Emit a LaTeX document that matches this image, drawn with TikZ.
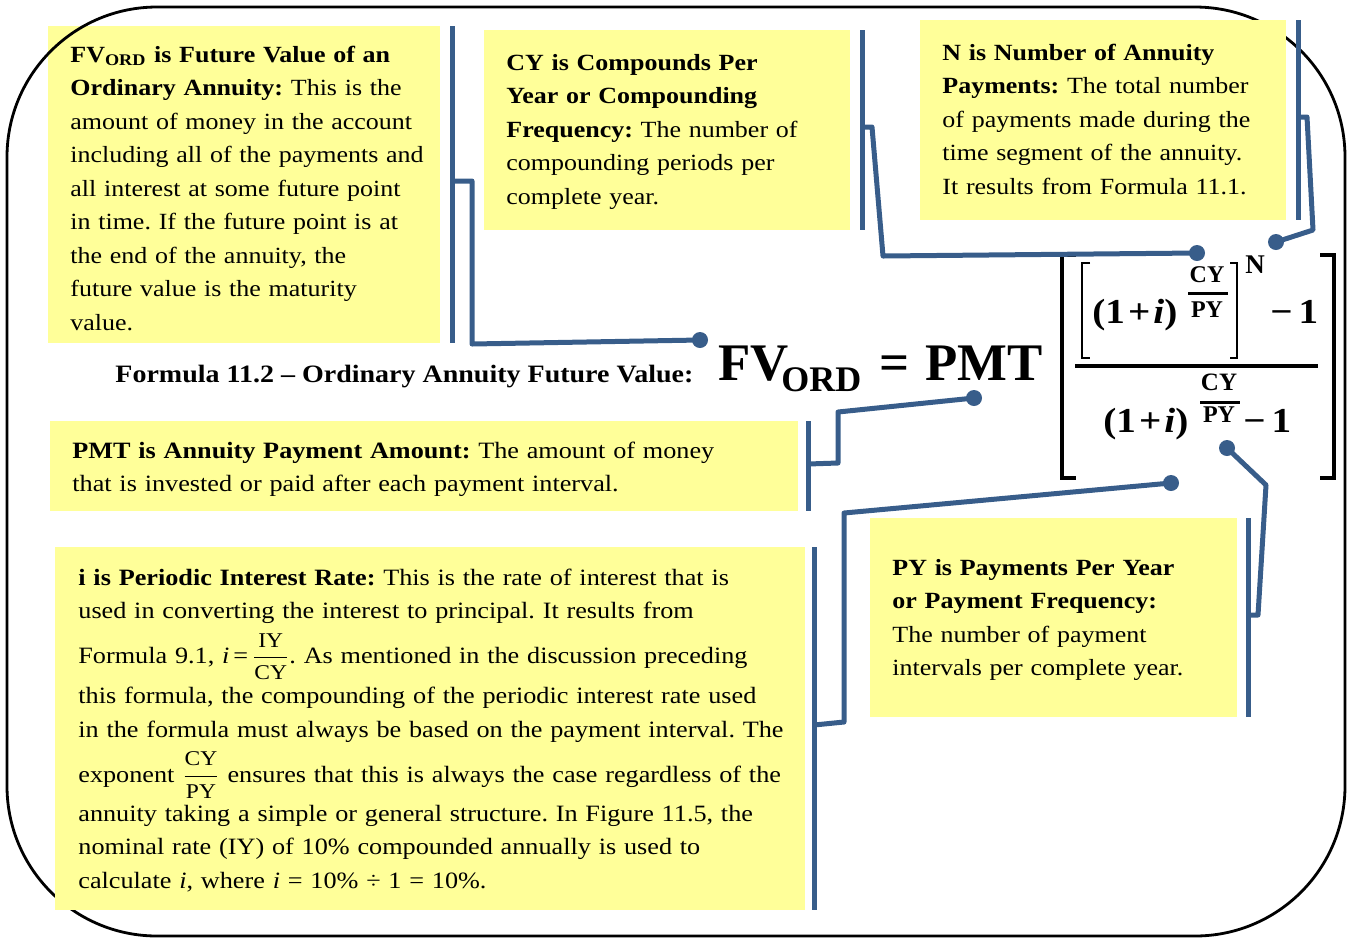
\documentclass[tikz,border=0pt]{standalone}
\usepackage{fontspec}
\setmainfont{Liberation Serif}[FakeStretch=1.12]
\newfontfamily\fml{Liberation Serif}
\usetikzlibrary{fit}
\frenchspacing
\definecolor{linkblue}{RGB}{56,93,138}
\definecolor{noteyellow}{RGB}{255,255,153}
\tikzset{
  notebox/.style={fill=noteyellow, draw=none, inner sep=0pt},
  notetext/.style={anchor=base west, inner sep=0pt, align=left, text width=380pt,
     font={\fontsize{11.6}{16.75}\selectfont}},
  widetext/.style={anchor=base west, inner sep=0pt, align=left, text width=420pt,
     font={\fontsize{11.7}{16.75}\selectfont\lineskiplimit=-40pt\lineskip=0pt}},
  conn/.style={draw=linkblue, line width=2.5pt, line join=round},
  linkdot/.style={circle, fill=linkblue, minimum size=8pt, inner sep=0pt},
  frameline/.style={draw=black, line width=1.4pt, rounded corners=75pt},
  fmlbig/.style={inner sep=0pt, anchor=base west, font={\fml\bfseries\fontsize{26.4}{26.4}\selectfont}},
  fmlmid/.style={inner sep=0pt, anchor=base west, font={\bfseries\fontsize{17.5}{17.5}\selectfont}},
  fmlsmall/.style={inner sep=0pt, font={\fml\bfseries\fontsize{12}{12}\selectfont}},
  bigbracket/.style={draw=black, line width=2pt},
  smallbracket/.style={draw=black, line width=1pt},
  fracbar/.style={draw=black, line width=1.5pt},
}
\newcommand{\onepi}{(1\kern1.5pt+\kern1.5pt\textit{i})}
\begin{document}
\begin{tikzpicture}[x=0.5pt,y=-0.5pt]
\useasboundingbox (0,0) rectangle (1349,939);

% FV box (under the frame)
\node[notebox, fit={(48,26) (440,343)}] (fvbox) {};
% frame
\draw[frameline] (7,7) rectangle (1345,936);
% other boxes
\node[notebox, fit={(484,30) (850,230)}] (cybox) {};
\node[notebox, fit={(920,20) (1286,220)}] (nbox) {};
\node[notebox, fit={(50,421) (798,511)}] (pmtbox) {};
\node[notebox, fit={(55,547) (805,910)}] (ibox) {};
\node[notebox, fit={(870,518) (1237,717)}] (pybox) {};

% texts
\node[notetext] (fvtext) at (70,62) {\textbf{FV\textsubscript{ORD} is Future Value of an}\\
\textbf{Ordinary Annuity:} This is the\\
amount of money in the account\\
including all of the payments and\\
all interest at some future point\\
in time. If the future point is at\\
the end of the annuity, the\\
future value is the maturity\\
value.};

\node[notetext] (cytext) at (506,70) {\textbf{CY is Compounds Per}\\
\textbf{Year or Compounding}\\
\textbf{Frequency:} The number of\\
compounding periods per\\
complete year.};

\node[notetext] (ntext) at (942,60) {\textbf{N is Number of Annuity}\\
\textbf{Payments:} The total number\\
of payments made during the\\
time segment of the annuity.\\
It results from Formula 11.1.};

\node[notetext] (pytext) at (892,575) {\textbf{PY is Payments Per Year}\\
\textbf{or Payment Frequency:}\\
The number of payment\\
intervals per complete year.};

\node[widetext] (pmttext) at (72,458) {\textbf{PMT is Annuity Payment Amount:} The amount of money\\
that is invested or paid after each payment interval.};

\node[widetext] (itext) at (78,585) {\textbf{i is Periodic Interest Rate:} This is the rate of interest that is\\
used in converting the interest to principal. It results from\\[5.75pt]
Formula 9.1, \textit{i}\,=\,$\displaystyle\frac{\mbox{\fontsize{10.5}{10.5}\selectfont IY}}{\mbox{\fontsize{10.5}{10.5}\selectfont CY}}$. As mentioned in the discussion preceding\\[3.25pt]
this formula, the compounding of the periodic interest rate used\\
in the formula must always be based on the payment interval. The\\[5.75pt]
exponent $\displaystyle\frac{\mbox{\fontsize{10.5}{10.5}\selectfont CY}}{\mbox{\fontsize{10.5}{10.5}\selectfont PY}}$ ensures that this is always the case regardless of the\\[2.75pt]
annuity taking a simple or general structure. In Figure 11.5, the\\
nominal rate (IY) of 10\% compounded annually is used to\\
calculate \textit{i}, where \textit{i} = 10\% ÷ 1 = 10\%.};

% formula label and formula
\node[inner sep=0pt, anchor=base west, font={\bfseries\fontsize{12.5}{12.5}\selectfont}] (flabel) at (115,382) {Formula 11.2 – Ordinary Annuity Future Value:};
\node[fmlbig] (fv) at (718,380) {FV};
\node[inner sep=0pt, anchor=base west, font={\fml\bfseries\fontsize{18}{18}\selectfont}] (ord) at (781,391) {ORD};
\node[fmlbig, anchor=base] (eq) at (895,380) {=};
\node[fmlbig] (pmt) at (925,380) {PMT};

% brackets
\draw[bigbracket] (1076,255) -- (1062,255) -- (1062,478) -- (1076,478);
\draw[bigbracket] (1320,255) -- (1334,255) -- (1334,478) -- (1320,478);
\draw[smallbracket] (1090,263) -- (1082,263) -- (1082,358) -- (1090,358);
\draw[smallbracket] (1230,263) -- (1237,263) -- (1237,358) -- (1230,358);
\draw[bigbracket] (1075,366) -- (1318,366);

% numerator
\node[fmlmid] (numbase) at (1092,323) {\onepi};
\node[fmlsmall] (ncy) at (1207,275) {CY};
\draw[fracbar] (1188,293) -- (1228,293);
\node[fmlsmall] (npy) at (1207,310) {PY};
\node[fmlsmall, font={\fml\bfseries\fontsize{13.5}{13.5}\selectfont}] (nexp) at (1255,265) {N};
\node[fmlmid] (nminus) at (1270,323) {−\,1};

% denominator
\node[fmlmid] (denbase) at (1103,432) {\onepi};
\node[fmlsmall, font={\fml\bfseries\fontsize{12.5}{12.5}\selectfont}] (dcy) at (1219,382) {CY};
\draw[fracbar] (1200,402) -- (1240,402);
\node[fmlsmall] (dpy) at (1219,415) {PY};
\node[fmlmid] (dminus) at (1243,432) {−\,1};

% dots
\node[linkdot] (dFV) at (700,340) {};
\node[linkdot] (dCY) at (1197,253) {};
\node[linkdot] (dN) at (1276,242) {};
\node[linkdot] (dPMT) at (974,398) {};
\node[linkdot] (dI) at (1171,483) {};
\node[linkdot] (dPY) at (1227,448) {};

% connectors
\draw[conn] (452,26) -- (452,343);
\draw[conn] (452,181) -- (472,181) -- (472,344) -- (dFV.center);
\draw[conn] (862,30) -- (862,230);
\draw[conn] (862,127) -- (872,127) -- (883,256) -- (dCY.center);
\draw[conn] (1298,20) -- (1298,220);
\draw[conn] (1298,117) -- (1307,117) -- (1313,230) -- (dN.center);
\draw[conn] (808,421) -- (808,511);
\draw[conn] (808,464) -- (838,463) -- (838,412) -- (dPMT.center);
\draw[conn] (814,547) -- (814,910);
\draw[conn] (814,725) -- (844,722) -- (844,513) -- (dI.center);
\draw[conn] (1248,518) -- (1248,717);
\draw[conn] (1248,615) -- (1258,615) -- (1266,485) -- (dPY.center);
\end{tikzpicture}
\end{document}
